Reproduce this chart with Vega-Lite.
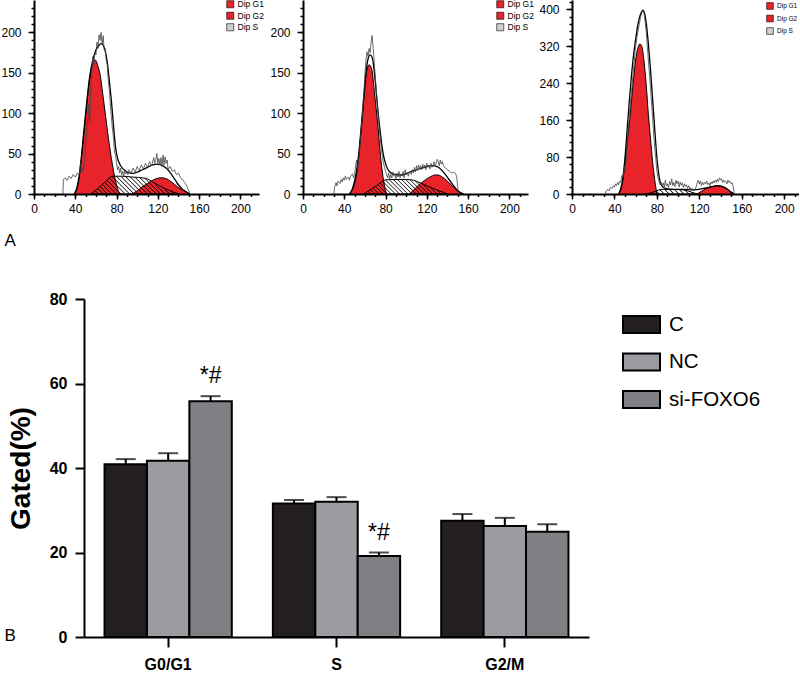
{
"$schema":"https://vega.github.io/schema/vega-lite/v6.json",
"padding":{"left":0,"top":0,"right":0,"bottom":0},
"config":{"font":"Liberation Sans","view":{"stroke":null},"axis":{"domainColor":"#000","tickColor":"#000","labelColor":"#000","titleColor":"#000","grid":false,"labelFont":"Liberation Sans","titleFont":"Liberation Sans"},"legend":{"labelFont":"Liberation Sans","labelColor":"#000"}},
"datasets":{
"p1":[
{"s":"Dip G1","x":40,"y":0},{"s":"Dip G1","x":42,"y":8},{"s":"Dip G1","x":44,"y":22},{"s":"Dip G1","x":46,"y":45},{"s":"Dip G1","x":48,"y":70},{"s":"Dip G1","x":50,"y":97},{"s":"Dip G1","x":52,"y":122},{"s":"Dip G1","x":54,"y":143},{"s":"Dip G1","x":56,"y":157},{"s":"Dip G1","x":58,"y":165},{"s":"Dip G1","x":59,"y":166},{"s":"Dip G1","x":60,"y":165},{"s":"Dip G1","x":62,"y":158},{"s":"Dip G1","x":64,"y":148},{"s":"Dip G1","x":66,"y":130},{"s":"Dip G1","x":68,"y":110},{"s":"Dip G1","x":70,"y":90},{"s":"Dip G1","x":72,"y":70},{"s":"Dip G1","x":74,"y":52},{"s":"Dip G1","x":76,"y":36},{"s":"Dip G1","x":78,"y":22},{"s":"Dip G1","x":80,"y":11},{"s":"Dip G1","x":82,"y":3},{"s":"Dip G1","x":84,"y":0},
{"s":"Dip G2","x":95,"y":0},{"s":"Dip G2","x":100,"y":4},{"s":"Dip G2","x":105,"y":9},{"s":"Dip G2","x":110,"y":13},{"s":"Dip G2","x":115,"y":17},{"s":"Dip G2","x":120,"y":19.5},{"s":"Dip G2","x":124,"y":20},{"s":"Dip G2","x":128,"y":19},{"s":"Dip G2","x":132,"y":16},{"s":"Dip G2","x":136,"y":12},{"s":"Dip G2","x":140,"y":8},{"s":"Dip G2","x":144,"y":5},{"s":"Dip G2","x":148,"y":2},{"s":"Dip G2","x":151,"y":0},
{"s":"Dip S","x":55,"y":0},{"s":"Dip S","x":62,"y":7},{"s":"Dip S","x":69,"y":15},{"s":"Dip S","x":76,"y":22},{"s":"Dip S","x":85,"y":22},{"s":"Dip S","x":95,"y":21},{"s":"Dip S","x":108,"y":19.5},{"s":"Dip S","x":115,"y":15},{"s":"Dip S","x":122,"y":10},{"s":"Dip S","x":130,"y":5},{"s":"Dip S","x":136,"y":2},{"s":"Dip S","x":141,"y":0},
{"s":"fit","x":39,"y":0},{"s":"fit","x":42,"y":10},{"s":"fit","x":45,"y":35},{"s":"fit","x":48,"y":74},{"s":"fit","x":51,"y":112},{"s":"fit","x":54,"y":146},{"s":"fit","x":57,"y":166},{"s":"fit","x":60,"y":178},{"s":"fit","x":63,"y":184},{"s":"fit","x":65,"y":186},{"s":"fit","x":67,"y":184},{"s":"fit","x":69,"y":177},{"s":"fit","x":71,"y":163},{"s":"fit","x":73,"y":140},{"s":"fit","x":75,"y":115},{"s":"fit","x":77,"y":85},{"s":"fit","x":79,"y":58},{"s":"fit","x":81,"y":44},{"s":"fit","x":84,"y":35},{"s":"fit","x":88,"y":29},{"s":"fit","x":92,"y":26},{"s":"fit","x":96,"y":25.5},{"s":"fit","x":100,"y":27},{"s":"fit","x":105,"y":30},{"s":"fit","x":110,"y":33},{"s":"fit","x":115,"y":36},{"s":"fit","x":119,"y":37},{"s":"fit","x":123,"y":36},{"s":"fit","x":127,"y":33},{"s":"fit","x":131,"y":28},{"s":"fit","x":135,"y":21},{"s":"fit","x":139,"y":13},{"s":"fit","x":143,"y":7},{"s":"fit","x":147,"y":3},{"s":"fit","x":151,"y":0},
{"s":"raw","x":28,"y":0},{"s":"raw","x":28.5,"y":18},{"s":"raw","x":30,"y":20},{"s":"raw","x":32,"y":17},{"s":"raw","x":34,"y":22},{"s":"raw","x":36,"y":19},{"s":"raw","x":38,"y":24},{"s":"raw","x":40,"y":21},{"s":"raw","x":42,"y":26},{"s":"raw","x":44,"y":24},{"s":"raw","x":45,"y":38},{"s":"raw","x":46,"y":36},{"s":"raw","x":47,"y":27},{"s":"raw","x":49,"y":40},{"s":"raw","x":50,"y":60},{"s":"raw","x":52,"y":90},{"s":"raw","x":53,"y":110},{"s":"raw","x":54,"y":87},{"s":"raw","x":55,"y":130},{"s":"raw","x":56,"y":150},{"s":"raw","x":57,"y":170},{"s":"raw","x":58,"y":160},{"s":"raw","x":59,"y":175},{"s":"raw","x":60,"y":172},{"s":"raw","x":61,"y":188},{"s":"raw","x":62,"y":180},{"s":"raw","x":63,"y":197},{"s":"raw","x":64,"y":190},{"s":"raw","x":65,"y":200},{"s":"raw","x":66,"y":185},{"s":"raw","x":67,"y":196},{"s":"raw","x":68,"y":178},{"s":"raw","x":69,"y":180},{"s":"raw","x":70,"y":165},{"s":"raw","x":71,"y":160},{"s":"raw","x":72,"y":140},{"s":"raw","x":73,"y":128},{"s":"raw","x":74,"y":110},{"s":"raw","x":75,"y":95},{"s":"raw","x":76,"y":80},{"s":"raw","x":77,"y":70},{"s":"raw","x":78,"y":52},{"s":"raw","x":79,"y":48},{"s":"raw","x":80,"y":38},{"s":"raw","x":81,"y":30},{"s":"raw","x":82,"y":34},{"s":"raw","x":83,"y":26},{"s":"raw","x":84,"y":32},{"s":"raw","x":85,"y":24},{"s":"raw","x":86,"y":28},{"s":"raw","x":87,"y":22},{"s":"raw","x":88,"y":30},{"s":"raw","x":89,"y":25},{"s":"raw","x":90,"y":28},{"s":"raw","x":91,"y":24},{"s":"raw","x":92,"y":30},{"s":"raw","x":94,"y":26},{"s":"raw","x":96,"y":32},{"s":"raw","x":98,"y":27},{"s":"raw","x":100,"y":34},{"s":"raw","x":102,"y":29},{"s":"raw","x":104,"y":36},{"s":"raw","x":106,"y":31},{"s":"raw","x":108,"y":38},{"s":"raw","x":110,"y":33},{"s":"raw","x":112,"y":40},{"s":"raw","x":114,"y":35},{"s":"raw","x":116,"y":45},{"s":"raw","x":117,"y":38},{"s":"raw","x":118,"y":42},{"s":"raw","x":119,"y":50},{"s":"raw","x":120,"y":38},{"s":"raw","x":121,"y":44},{"s":"raw","x":122,"y":36},{"s":"raw","x":123,"y":45},{"s":"raw","x":124,"y":34},{"s":"raw","x":125,"y":48},{"s":"raw","x":126,"y":36},{"s":"raw","x":127,"y":46},{"s":"raw","x":128,"y":38},{"s":"raw","x":129,"y":42},{"s":"raw","x":130,"y":30},{"s":"raw","x":132,"y":34},{"s":"raw","x":134,"y":28},{"s":"raw","x":136,"y":30},{"s":"raw","x":138,"y":24},{"s":"raw","x":140,"y":26},{"s":"raw","x":142,"y":20},{"s":"raw","x":144,"y":18},{"s":"raw","x":146,"y":14},{"s":"raw","x":148,"y":10},{"s":"raw","x":150,"y":4},{"s":"raw","x":151,"y":0}
],
"p2":[
{"s":"Dip G1","x":45,"y":0},{"s":"Dip G1","x":48,"y":6},{"s":"Dip G1","x":51,"y":18},{"s":"Dip G1","x":53,"y":34},{"s":"Dip G1","x":55,"y":60},{"s":"Dip G1","x":57,"y":88},{"s":"Dip G1","x":59,"y":117},{"s":"Dip G1","x":61,"y":145},{"s":"Dip G1","x":63,"y":158},{"s":"Dip G1","x":64,"y":160},{"s":"Dip G1","x":65,"y":159},{"s":"Dip G1","x":67,"y":152},{"s":"Dip G1","x":69,"y":128},{"s":"Dip G1","x":71,"y":104},{"s":"Dip G1","x":73,"y":78},{"s":"Dip G1","x":75,"y":48},{"s":"Dip G1","x":77,"y":26},{"s":"Dip G1","x":79,"y":10},{"s":"Dip G1","x":81,"y":0},
{"s":"Dip G2","x":103,"y":0},{"s":"Dip G2","x":108,"y":6},{"s":"Dip G2","x":113,"y":12},{"s":"Dip G2","x":118,"y":17},{"s":"Dip G2","x":123,"y":21},{"s":"Dip G2","x":128,"y":23.5},{"s":"Dip G2","x":131,"y":23.5},{"s":"Dip G2","x":135,"y":21},{"s":"Dip G2","x":139,"y":17},{"s":"Dip G2","x":143,"y":12},{"s":"Dip G2","x":147,"y":7},{"s":"Dip G2","x":151,"y":3},{"s":"Dip G2","x":156,"y":0},
{"s":"Dip S","x":59,"y":0},{"s":"Dip S","x":66,"y":6},{"s":"Dip S","x":73,"y":12},{"s":"Dip S","x":80,"y":17.5},{"s":"Dip S","x":90,"y":18},{"s":"Dip S","x":100,"y":18},{"s":"Dip S","x":107,"y":17},{"s":"Dip S","x":115,"y":13},{"s":"Dip S","x":122,"y":9},{"s":"Dip S","x":130,"y":5},{"s":"Dip S","x":136,"y":2},{"s":"Dip S","x":140,"y":0},
{"s":"fit","x":45,"y":0},{"s":"fit","x":48,"y":7},{"s":"fit","x":51,"y":22},{"s":"fit","x":54,"y":50},{"s":"fit","x":57,"y":92},{"s":"fit","x":59,"y":122},{"s":"fit","x":61,"y":150},{"s":"fit","x":63,"y":167},{"s":"fit","x":65,"y":172},{"s":"fit","x":67,"y":169},{"s":"fit","x":69,"y":152},{"s":"fit","x":71,"y":125},{"s":"fit","x":73,"y":98},{"s":"fit","x":75,"y":75},{"s":"fit","x":77,"y":55},{"s":"fit","x":79,"y":42},{"s":"fit","x":82,"y":31},{"s":"fit","x":86,"y":25.5},{"s":"fit","x":90,"y":24},{"s":"fit","x":95,"y":23.5},{"s":"fit","x":100,"y":25},{"s":"fit","x":105,"y":28},{"s":"fit","x":110,"y":30},{"s":"fit","x":115,"y":32},{"s":"fit","x":120,"y":34},{"s":"fit","x":125,"y":35},{"s":"fit","x":130,"y":34},{"s":"fit","x":134,"y":30},{"s":"fit","x":138,"y":24},{"s":"fit","x":142,"y":17},{"s":"fit","x":146,"y":10},{"s":"fit","x":150,"y":4},{"s":"fit","x":155,"y":0},
{"s":"raw","x":30,"y":0},{"s":"raw","x":30.5,"y":8},{"s":"raw","x":32,"y":14},{"s":"raw","x":33,"y":10},{"s":"raw","x":34,"y":16},{"s":"raw","x":36,"y":13},{"s":"raw","x":37,"y":18},{"s":"raw","x":38,"y":15},{"s":"raw","x":39,"y":20},{"s":"raw","x":40,"y":17},{"s":"raw","x":41,"y":22},{"s":"raw","x":42,"y":18},{"s":"raw","x":44,"y":21},{"s":"raw","x":45,"y":17},{"s":"raw","x":46,"y":22},{"s":"raw","x":48,"y":25},{"s":"raw","x":49,"y":20},{"s":"raw","x":50,"y":24},{"s":"raw","x":51,"y":35},{"s":"raw","x":52,"y":42},{"s":"raw","x":53,"y":30},{"s":"raw","x":54,"y":45},{"s":"raw","x":55,"y":58},{"s":"raw","x":56,"y":75},{"s":"raw","x":57,"y":90},{"s":"raw","x":58,"y":108},{"s":"raw","x":59,"y":125},{"s":"raw","x":60,"y":150},{"s":"raw","x":61,"y":165},{"s":"raw","x":62,"y":176},{"s":"raw","x":63,"y":170},{"s":"raw","x":64,"y":180},{"s":"raw","x":65,"y":175},{"s":"raw","x":66,"y":188},{"s":"raw","x":67,"y":196},{"s":"raw","x":68,"y":180},{"s":"raw","x":69,"y":165},{"s":"raw","x":70,"y":145},{"s":"raw","x":71,"y":130},{"s":"raw","x":72,"y":110},{"s":"raw","x":73,"y":95},{"s":"raw","x":74,"y":80},{"s":"raw","x":75,"y":68},{"s":"raw","x":76,"y":55},{"s":"raw","x":77,"y":46},{"s":"raw","x":78,"y":38},{"s":"raw","x":79,"y":33},{"s":"raw","x":80,"y":28},{"s":"raw","x":81,"y":24},{"s":"raw","x":82,"y":20},{"s":"raw","x":83,"y":26},{"s":"raw","x":84,"y":18},{"s":"raw","x":85,"y":24},{"s":"raw","x":86,"y":20},{"s":"raw","x":87,"y":27},{"s":"raw","x":88,"y":22},{"s":"raw","x":89,"y":25},{"s":"raw","x":90,"y":19},{"s":"raw","x":91,"y":26},{"s":"raw","x":92,"y":21},{"s":"raw","x":93,"y":28},{"s":"raw","x":94,"y":20},{"s":"raw","x":95,"y":25},{"s":"raw","x":96,"y":22},{"s":"raw","x":97,"y":28},{"s":"raw","x":98,"y":20},{"s":"raw","x":99,"y":30},{"s":"raw","x":100,"y":24},{"s":"raw","x":101,"y":27},{"s":"raw","x":102,"y":22},{"s":"raw","x":103,"y":26},{"s":"raw","x":104,"y":28},{"s":"raw","x":105,"y":24},{"s":"raw","x":106,"y":30},{"s":"raw","x":107,"y":26},{"s":"raw","x":108,"y":33},{"s":"raw","x":109,"y":27},{"s":"raw","x":110,"y":35},{"s":"raw","x":111,"y":29},{"s":"raw","x":112,"y":36},{"s":"raw","x":113,"y":31},{"s":"raw","x":114,"y":35},{"s":"raw","x":115,"y":30},{"s":"raw","x":116,"y":37},{"s":"raw","x":117,"y":32},{"s":"raw","x":118,"y":36},{"s":"raw","x":119,"y":30},{"s":"raw","x":120,"y":38},{"s":"raw","x":121,"y":33},{"s":"raw","x":122,"y":36},{"s":"raw","x":123,"y":31},{"s":"raw","x":124,"y":38},{"s":"raw","x":125,"y":33},{"s":"raw","x":126,"y":36},{"s":"raw","x":127,"y":40},{"s":"raw","x":128,"y":35},{"s":"raw","x":129,"y":38},{"s":"raw","x":130,"y":43},{"s":"raw","x":131,"y":40},{"s":"raw","x":132,"y":35},{"s":"raw","x":133,"y":42},{"s":"raw","x":134,"y":37},{"s":"raw","x":135,"y":40},{"s":"raw","x":136,"y":35},{"s":"raw","x":138,"y":32},{"s":"raw","x":140,"y":30},{"s":"raw","x":142,"y":28},{"s":"raw","x":144,"y":26},{"s":"raw","x":146,"y":27},{"s":"raw","x":148,"y":25},{"s":"raw","x":149,"y":20},{"s":"raw","x":150,"y":8},{"s":"raw","x":150.5,"y":0}
],
"p3":[
{"s":"Dip G1","x":44,"y":0},{"s":"Dip G1","x":46,"y":10},{"s":"Dip G1","x":48,"y":30},{"s":"Dip G1","x":50,"y":70},{"s":"Dip G1","x":52,"y":112},{"s":"Dip G1","x":54,"y":152},{"s":"Dip G1","x":56,"y":200},{"s":"Dip G1","x":58,"y":250},{"s":"Dip G1","x":60,"y":290},{"s":"Dip G1","x":62,"y":315},{"s":"Dip G1","x":64,"y":325},{"s":"Dip G1","x":66,"y":318},{"s":"Dip G1","x":68,"y":285},{"s":"Dip G1","x":70,"y":235},{"s":"Dip G1","x":72,"y":172},{"s":"Dip G1","x":74,"y":120},{"s":"Dip G1","x":76,"y":70},{"s":"Dip G1","x":78,"y":30},{"s":"Dip G1","x":80,"y":0},
{"s":"Dip G2","x":118,"y":0},{"s":"Dip G2","x":122,"y":6},{"s":"Dip G2","x":126,"y":11},{"s":"Dip G2","x":130,"y":15},{"s":"Dip G2","x":134,"y":17},{"s":"Dip G2","x":137,"y":17.5},{"s":"Dip G2","x":140,"y":17},{"s":"Dip G2","x":143,"y":15},{"s":"Dip G2","x":146,"y":11},{"s":"Dip G2","x":149,"y":5},{"s":"Dip G2","x":151,"y":0},
{"s":"Dip S","x":70,"y":0},{"s":"Dip S","x":75,"y":3},{"s":"Dip S","x":80,"y":7},{"s":"Dip S","x":84,"y":10},{"s":"Dip S","x":95,"y":10},{"s":"Dip S","x":105,"y":9},{"s":"Dip S","x":110,"y":6},{"s":"Dip S","x":114,"y":3},{"s":"Dip S","x":118,"y":0},
{"s":"fit","x":44,"y":0},{"s":"fit","x":46,"y":12},{"s":"fit","x":48,"y":35},{"s":"fit","x":50,"y":80},{"s":"fit","x":52,"y":140},{"s":"fit","x":54,"y":200},{"s":"fit","x":56,"y":255},{"s":"fit","x":58,"y":300},{"s":"fit","x":60,"y":335},{"s":"fit","x":62,"y":365},{"s":"fit","x":64,"y":385},{"s":"fit","x":66,"y":396},{"s":"fit","x":67,"y":398},{"s":"fit","x":68,"y":394},{"s":"fit","x":70,"y":370},{"s":"fit","x":72,"y":325},{"s":"fit","x":74,"y":270},{"s":"fit","x":76,"y":205},{"s":"fit","x":78,"y":140},{"s":"fit","x":80,"y":80},{"s":"fit","x":82,"y":40},{"s":"fit","x":84,"y":20},{"s":"fit","x":88,"y":12},{"s":"fit","x":95,"y":10},{"s":"fit","x":105,"y":10},{"s":"fit","x":115,"y":9},{"s":"fit","x":120,"y":10},{"s":"fit","x":126,"y":13},{"s":"fit","x":132,"y":16},{"s":"fit","x":137,"y":18},{"s":"fit","x":142,"y":16},{"s":"fit","x":146,"y":11},{"s":"fit","x":150,"y":4},{"s":"fit","x":153,"y":0},
{"s":"raw","x":31.5,"y":0},{"s":"raw","x":32,"y":6},{"s":"raw","x":34,"y":10},{"s":"raw","x":35,"y":7},{"s":"raw","x":36,"y":14},{"s":"raw","x":38,"y":12},{"s":"raw","x":39,"y":18},{"s":"raw","x":40,"y":15},{"s":"raw","x":41,"y":22},{"s":"raw","x":42,"y":18},{"s":"raw","x":43,"y":25},{"s":"raw","x":44,"y":20},{"s":"raw","x":45,"y":28},{"s":"raw","x":46,"y":25},{"s":"raw","x":47,"y":40},{"s":"raw","x":48,"y":35},{"s":"raw","x":49,"y":52},{"s":"raw","x":49.5,"y":60},{"s":"raw","x":50,"y":48},{"s":"raw","x":51,"y":70},{"s":"raw","x":52,"y":110},{"s":"raw","x":53,"y":140},{"s":"raw","x":54,"y":170},{"s":"raw","x":56,"y":220},{"s":"raw","x":58,"y":270},{"s":"raw","x":60,"y":320},{"s":"raw","x":62,"y":350},{"s":"raw","x":64,"y":375},{"s":"raw","x":65,"y":385},{"s":"raw","x":66,"y":395},{"s":"raw","x":67,"y":398},{"s":"raw","x":68,"y":390},{"s":"raw","x":69,"y":372},{"s":"raw","x":70,"y":350},{"s":"raw","x":71,"y":320},{"s":"raw","x":72,"y":290},{"s":"raw","x":73,"y":260},{"s":"raw","x":74,"y":230},{"s":"raw","x":75,"y":195},{"s":"raw","x":76,"y":165},{"s":"raw","x":77,"y":130},{"s":"raw","x":78,"y":100},{"s":"raw","x":79,"y":75},{"s":"raw","x":80,"y":50},{"s":"raw","x":81,"y":35},{"s":"raw","x":82,"y":28},{"s":"raw","x":83,"y":20},{"s":"raw","x":84,"y":26},{"s":"raw","x":85,"y":18},{"s":"raw","x":86,"y":24},{"s":"raw","x":87,"y":15},{"s":"raw","x":88,"y":30},{"s":"raw","x":89,"y":17},{"s":"raw","x":90,"y":22},{"s":"raw","x":91,"y":14},{"s":"raw","x":92,"y":27},{"s":"raw","x":93,"y":20},{"s":"raw","x":94,"y":33},{"s":"raw","x":95,"y":18},{"s":"raw","x":96,"y":25},{"s":"raw","x":97,"y":16},{"s":"raw","x":98,"y":30},{"s":"raw","x":99,"y":22},{"s":"raw","x":100,"y":28},{"s":"raw","x":101,"y":15},{"s":"raw","x":102,"y":26},{"s":"raw","x":103,"y":19},{"s":"raw","x":104,"y":24},{"s":"raw","x":105,"y":14},{"s":"raw","x":106,"y":22},{"s":"raw","x":107,"y":16},{"s":"raw","x":108,"y":20},{"s":"raw","x":109,"y":12},{"s":"raw","x":110,"y":18},{"s":"raw","x":111,"y":10},{"s":"raw","x":112,"y":14},{"s":"raw","x":113,"y":8},{"s":"raw","x":114,"y":12},{"s":"raw","x":115,"y":7},{"s":"raw","x":116,"y":10},{"s":"raw","x":117,"y":15},{"s":"raw","x":118,"y":24},{"s":"raw","x":119,"y":30},{"s":"raw","x":120,"y":22},{"s":"raw","x":121,"y":28},{"s":"raw","x":122,"y":18},{"s":"raw","x":123,"y":26},{"s":"raw","x":124,"y":20},{"s":"raw","x":125,"y":25},{"s":"raw","x":126,"y":22},{"s":"raw","x":127,"y":28},{"s":"raw","x":128,"y":20},{"s":"raw","x":129,"y":24},{"s":"raw","x":130,"y":18},{"s":"raw","x":131,"y":26},{"s":"raw","x":132,"y":22},{"s":"raw","x":133,"y":28},{"s":"raw","x":134,"y":24},{"s":"raw","x":135,"y":30},{"s":"raw","x":136,"y":25},{"s":"raw","x":137,"y":32},{"s":"raw","x":138,"y":27},{"s":"raw","x":139,"y":35},{"s":"raw","x":140,"y":30},{"s":"raw","x":141,"y":33},{"s":"raw","x":142,"y":25},{"s":"raw","x":143,"y":30},{"s":"raw","x":144,"y":26},{"s":"raw","x":145,"y":28},{"s":"raw","x":146,"y":22},{"s":"raw","x":147,"y":30},{"s":"raw","x":148,"y":25},{"s":"raw","x":149,"y":28},{"s":"raw","x":150,"y":22},{"s":"raw","x":151,"y":24},{"s":"raw","x":152,"y":15},{"s":"raw","x":153,"y":0}
],
"bars":[
{"phase":"G0/G1","group":"C","value":40.9,"upper":42.1,"label":""},
{"phase":"G0/G1","group":"NC","value":41.7,"upper":43.5,"label":""},
{"phase":"G0/G1","group":"si-FOXO6","value":55.8,"upper":57.0,"label":"*#"},
{"phase":"S","group":"C","value":31.6,"upper":32.4,"label":""},
{"phase":"S","group":"NC","value":32.0,"upper":33.1,"label":""},
{"phase":"S","group":"si-FOXO6","value":19.2,"upper":20.0,"label":"*#"},
{"phase":"G2/M","group":"C","value":27.5,"upper":29.1,"label":""},
{"phase":"G2/M","group":"NC","value":26.3,"upper":28.2,"label":""},
{"phase":"G2/M","group":"si-FOXO6","value":24.9,"upper":26.7,"label":""}
]
},
"columns":3,
"align":"none",
"bounds":"flush",
"spacing":{"row":105,"column":44},
"resolve":{"scale":{"x":"independent","y":"independent","color":"independent"},"axis":{"x":"independent","y":"independent"},"legend":{"color":"independent"}},
"concat":[
{
"width":225,"height":194,
"data":{"name":"p1"},
"resolve":{"axis":{"x":"independent","y":"independent"}},
"layer":[
{"transform":[{"filter":{"field":"s","oneOf":["Dip G1","Dip G2"]}}],
"mark":{"type":"area","interpolate":"monotone","stroke":"#000","strokeWidth":1},
"encoding":{
"x":{"field":"x","type":"quantitative","scale":{"domain":[0,218],"nice":false,"zero":false},"axis":{"orient":"bottom","values":[0,40,80,120,160,200],"tickSize":5,"tickWidth":1.5,"domainWidth":2,"labelFontSize":12,"labelPadding":4,"labelFlush":false,"title":"A","titleX":-30,"titleY":38,"titleAlign":"left","titleBaseline":"top","titleFontSize":17,"titleFontWeight":"normal","titleAngle":0}},
"y":{"field":"y","type":"quantitative","stack":null,"scale":{"domain":[0,240],"nice":false},"axis":{"orient":"left","values":[0,50,100,150,200],"tickSize":6,"tickWidth":1.5,"domainWidth":2,"labelFontSize":12,"labelPadding":7,"labelFlush":false,"title":null}},
"color":{"field":"s","type":"nominal","scale":{"domain":["Dip G1","Dip G2","Dip S"],"range":["#e8232a","#e8232a","#cfcfcf"]},"legend":{"orient":"none","legendX":192,"legendY":0,"title":null,"symbolType":"square","symbolSize":50,"symbolStrokeColor":"#000","symbolStrokeWidth":0.6,"labelFontSize":8.5,"labelOffset":3,"rowPadding":1.5}}
}},
{"transform":[{"filter":"datum.s === 'Dip S'"}],
"mark":{"type":"area","interpolate":"monotone","stroke":"#000","strokeWidth":1,"fill":{"gradient":"linear","x1":-0.1,"y1":0.62,"x2":1.1,"y2":0.38,"stops":[{"offset":0,"color":"rgba(0,0,0,0)"},{"offset":0.01,"color":"rgba(0,0,0,0.9)"},{"offset":0.02,"color":"rgba(0,0,0,0)"},{"offset":0.04,"color":"rgba(0,0,0,0)"},{"offset":0.05,"color":"rgba(0,0,0,0.9)"},{"offset":0.06,"color":"rgba(0,0,0,0)"},{"offset":0.08,"color":"rgba(0,0,0,0)"},{"offset":0.09,"color":"rgba(0,0,0,0.9)"},{"offset":0.1,"color":"rgba(0,0,0,0)"},{"offset":0.12,"color":"rgba(0,0,0,0)"},{"offset":0.13,"color":"rgba(0,0,0,0.9)"},{"offset":0.14,"color":"rgba(0,0,0,0)"},{"offset":0.16,"color":"rgba(0,0,0,0)"},{"offset":0.17,"color":"rgba(0,0,0,0.9)"},{"offset":0.18,"color":"rgba(0,0,0,0)"},{"offset":0.2,"color":"rgba(0,0,0,0)"},{"offset":0.21,"color":"rgba(0,0,0,0.9)"},{"offset":0.22,"color":"rgba(0,0,0,0)"},{"offset":0.24,"color":"rgba(0,0,0,0)"},{"offset":0.25,"color":"rgba(0,0,0,0.9)"},{"offset":0.26,"color":"rgba(0,0,0,0)"},{"offset":0.28,"color":"rgba(0,0,0,0)"},{"offset":0.29,"color":"rgba(0,0,0,0.9)"},{"offset":0.3,"color":"rgba(0,0,0,0)"},{"offset":0.32,"color":"rgba(0,0,0,0)"},{"offset":0.33,"color":"rgba(0,0,0,0.9)"},{"offset":0.34,"color":"rgba(0,0,0,0)"},{"offset":0.36,"color":"rgba(0,0,0,0)"},{"offset":0.37,"color":"rgba(0,0,0,0.9)"},{"offset":0.38,"color":"rgba(0,0,0,0)"},{"offset":0.4,"color":"rgba(0,0,0,0)"},{"offset":0.41,"color":"rgba(0,0,0,0.9)"},{"offset":0.42,"color":"rgba(0,0,0,0)"},{"offset":0.44,"color":"rgba(0,0,0,0)"},{"offset":0.45,"color":"rgba(0,0,0,0.9)"},{"offset":0.46,"color":"rgba(0,0,0,0)"},{"offset":0.48,"color":"rgba(0,0,0,0)"},{"offset":0.49,"color":"rgba(0,0,0,0.9)"},{"offset":0.5,"color":"rgba(0,0,0,0)"},{"offset":0.52,"color":"rgba(0,0,0,0)"},{"offset":0.53,"color":"rgba(0,0,0,0.9)"},{"offset":0.54,"color":"rgba(0,0,0,0)"},{"offset":0.56,"color":"rgba(0,0,0,0)"},{"offset":0.57,"color":"rgba(0,0,0,0.9)"},{"offset":0.58,"color":"rgba(0,0,0,0)"},{"offset":0.6,"color":"rgba(0,0,0,0)"},{"offset":0.61,"color":"rgba(0,0,0,0.9)"},{"offset":0.62,"color":"rgba(0,0,0,0)"},{"offset":0.64,"color":"rgba(0,0,0,0)"},{"offset":0.65,"color":"rgba(0,0,0,0.9)"},{"offset":0.66,"color":"rgba(0,0,0,0)"},{"offset":0.68,"color":"rgba(0,0,0,0)"},{"offset":0.69,"color":"rgba(0,0,0,0.9)"},{"offset":0.7,"color":"rgba(0,0,0,0)"},{"offset":0.72,"color":"rgba(0,0,0,0)"},{"offset":0.73,"color":"rgba(0,0,0,0.9)"},{"offset":0.74,"color":"rgba(0,0,0,0)"},{"offset":0.76,"color":"rgba(0,0,0,0)"},{"offset":0.77,"color":"rgba(0,0,0,0.9)"},{"offset":0.78,"color":"rgba(0,0,0,0)"},{"offset":0.8,"color":"rgba(0,0,0,0)"},{"offset":0.81,"color":"rgba(0,0,0,0.9)"},{"offset":0.82,"color":"rgba(0,0,0,0)"},{"offset":0.84,"color":"rgba(0,0,0,0)"},{"offset":0.85,"color":"rgba(0,0,0,0.9)"},{"offset":0.86,"color":"rgba(0,0,0,0)"},{"offset":0.88,"color":"rgba(0,0,0,0)"},{"offset":0.89,"color":"rgba(0,0,0,0.9)"},{"offset":0.9,"color":"rgba(0,0,0,0)"},{"offset":0.92,"color":"rgba(0,0,0,0)"},{"offset":0.93,"color":"rgba(0,0,0,0.9)"},{"offset":0.94,"color":"rgba(0,0,0,0)"},{"offset":0.96,"color":"rgba(0,0,0,0)"},{"offset":0.97,"color":"rgba(0,0,0,0.9)"},{"offset":0.98,"color":"rgba(0,0,0,0)"},{"offset":1,"color":"rgba(0,0,0,0)"}]}},
"encoding":{"x":{"field":"x","type":"quantitative","axis":null},"y":{"field":"y","type":"quantitative","stack":null,"axis":null}}},
{"transform":[{"filter":"datum.s === 'fit'"}],"mark":{"type":"line","interpolate":"monotone","color":"#000","strokeWidth":1.3},"encoding":{"x":{"field":"x","type":"quantitative","axis":{"orient":"bottom","values":[0,10,20,30,40,50,60,70,80,90,100,110,120,130,140,150,160,170,180,190,200,210],"tickSize":2.5,"tickWidth":1.5,"labels":false,"domain":false,"title":null}},"y":{"field":"y","type":"quantitative","axis":{"orient":"left","values":[0,10,20,30,40,50,60,70,80,90,100,110,120,130,140,150,160,170,180,190,200,210,220,230],"tickSize":3,"tickWidth":1.5,"labels":false,"domain":false,"title":null}}}},
{"transform":[{"filter":"datum.s === 'raw'"}],"mark":{"type":"line","color":"#444","strokeWidth":0.8},"encoding":{"x":{"field":"x","type":"quantitative","axis":null},"y":{"field":"y","type":"quantitative","axis":null}}}
]
},
{
"width":225,"height":194,
"data":{"name":"p2"},
"resolve":{"axis":{"x":"independent","y":"independent"}},
"layer":[
{"transform":[{"filter":{"field":"s","oneOf":["Dip G1","Dip G2"]}}],
"mark":{"type":"area","interpolate":"monotone","stroke":"#000","strokeWidth":1},
"encoding":{
"x":{"field":"x","type":"quantitative","scale":{"domain":[0,218],"nice":false,"zero":false},"axis":{"orient":"bottom","values":[0,40,80,120,160,200],"tickSize":5,"tickWidth":1.5,"domainWidth":2,"labelFontSize":12,"labelPadding":4,"labelFlush":false,"title":null}},
"y":{"field":"y","type":"quantitative","stack":null,"scale":{"domain":[0,240],"nice":false},"axis":{"orient":"left","values":[0,50,100,150,200],"tickSize":6,"tickWidth":1.5,"domainWidth":2,"labelFontSize":12,"labelPadding":7,"labelFlush":false,"title":null}},
"color":{"field":"s","type":"nominal","scale":{"domain":["Dip G1","Dip G2","Dip S"],"range":["#e8232a","#e8232a","#cfcfcf"]},"legend":{"orient":"none","legendX":193,"legendY":0,"title":null,"symbolType":"square","symbolSize":50,"symbolStrokeColor":"#000","symbolStrokeWidth":0.6,"labelFontSize":8.5,"labelOffset":3,"rowPadding":1.5}}
}},
{"transform":[{"filter":"datum.s === 'Dip S'"}],
"mark":{"type":"area","interpolate":"monotone","stroke":"#000","strokeWidth":1,"fill":{"gradient":"linear","x1":-0.1,"y1":0.605,"x2":1.1,"y2":0.395,"stops":[{"offset":0,"color":"rgba(0,0,0,0)"},{"offset":0.01,"color":"rgba(0,0,0,0.9)"},{"offset":0.02,"color":"rgba(0,0,0,0)"},{"offset":0.04,"color":"rgba(0,0,0,0)"},{"offset":0.05,"color":"rgba(0,0,0,0.9)"},{"offset":0.06,"color":"rgba(0,0,0,0)"},{"offset":0.08,"color":"rgba(0,0,0,0)"},{"offset":0.09,"color":"rgba(0,0,0,0.9)"},{"offset":0.1,"color":"rgba(0,0,0,0)"},{"offset":0.12,"color":"rgba(0,0,0,0)"},{"offset":0.13,"color":"rgba(0,0,0,0.9)"},{"offset":0.14,"color":"rgba(0,0,0,0)"},{"offset":0.16,"color":"rgba(0,0,0,0)"},{"offset":0.17,"color":"rgba(0,0,0,0.9)"},{"offset":0.18,"color":"rgba(0,0,0,0)"},{"offset":0.2,"color":"rgba(0,0,0,0)"},{"offset":0.21,"color":"rgba(0,0,0,0.9)"},{"offset":0.22,"color":"rgba(0,0,0,0)"},{"offset":0.24,"color":"rgba(0,0,0,0)"},{"offset":0.25,"color":"rgba(0,0,0,0.9)"},{"offset":0.26,"color":"rgba(0,0,0,0)"},{"offset":0.28,"color":"rgba(0,0,0,0)"},{"offset":0.29,"color":"rgba(0,0,0,0.9)"},{"offset":0.3,"color":"rgba(0,0,0,0)"},{"offset":0.32,"color":"rgba(0,0,0,0)"},{"offset":0.33,"color":"rgba(0,0,0,0.9)"},{"offset":0.34,"color":"rgba(0,0,0,0)"},{"offset":0.36,"color":"rgba(0,0,0,0)"},{"offset":0.37,"color":"rgba(0,0,0,0.9)"},{"offset":0.38,"color":"rgba(0,0,0,0)"},{"offset":0.4,"color":"rgba(0,0,0,0)"},{"offset":0.41,"color":"rgba(0,0,0,0.9)"},{"offset":0.42,"color":"rgba(0,0,0,0)"},{"offset":0.44,"color":"rgba(0,0,0,0)"},{"offset":0.45,"color":"rgba(0,0,0,0.9)"},{"offset":0.46,"color":"rgba(0,0,0,0)"},{"offset":0.48,"color":"rgba(0,0,0,0)"},{"offset":0.49,"color":"rgba(0,0,0,0.9)"},{"offset":0.5,"color":"rgba(0,0,0,0)"},{"offset":0.52,"color":"rgba(0,0,0,0)"},{"offset":0.53,"color":"rgba(0,0,0,0.9)"},{"offset":0.54,"color":"rgba(0,0,0,0)"},{"offset":0.56,"color":"rgba(0,0,0,0)"},{"offset":0.57,"color":"rgba(0,0,0,0.9)"},{"offset":0.58,"color":"rgba(0,0,0,0)"},{"offset":0.6,"color":"rgba(0,0,0,0)"},{"offset":0.61,"color":"rgba(0,0,0,0.9)"},{"offset":0.62,"color":"rgba(0,0,0,0)"},{"offset":0.64,"color":"rgba(0,0,0,0)"},{"offset":0.65,"color":"rgba(0,0,0,0.9)"},{"offset":0.66,"color":"rgba(0,0,0,0)"},{"offset":0.68,"color":"rgba(0,0,0,0)"},{"offset":0.69,"color":"rgba(0,0,0,0.9)"},{"offset":0.7,"color":"rgba(0,0,0,0)"},{"offset":0.72,"color":"rgba(0,0,0,0)"},{"offset":0.73,"color":"rgba(0,0,0,0.9)"},{"offset":0.74,"color":"rgba(0,0,0,0)"},{"offset":0.76,"color":"rgba(0,0,0,0)"},{"offset":0.77,"color":"rgba(0,0,0,0.9)"},{"offset":0.78,"color":"rgba(0,0,0,0)"},{"offset":0.8,"color":"rgba(0,0,0,0)"},{"offset":0.81,"color":"rgba(0,0,0,0.9)"},{"offset":0.82,"color":"rgba(0,0,0,0)"},{"offset":0.84,"color":"rgba(0,0,0,0)"},{"offset":0.85,"color":"rgba(0,0,0,0.9)"},{"offset":0.86,"color":"rgba(0,0,0,0)"},{"offset":0.88,"color":"rgba(0,0,0,0)"},{"offset":0.89,"color":"rgba(0,0,0,0.9)"},{"offset":0.9,"color":"rgba(0,0,0,0)"},{"offset":0.92,"color":"rgba(0,0,0,0)"},{"offset":0.93,"color":"rgba(0,0,0,0.9)"},{"offset":0.94,"color":"rgba(0,0,0,0)"},{"offset":0.96,"color":"rgba(0,0,0,0)"},{"offset":0.97,"color":"rgba(0,0,0,0.9)"},{"offset":0.98,"color":"rgba(0,0,0,0)"},{"offset":1,"color":"rgba(0,0,0,0)"}]}},
"encoding":{"x":{"field":"x","type":"quantitative","axis":null},"y":{"field":"y","type":"quantitative","stack":null,"axis":null}}},
{"transform":[{"filter":"datum.s === 'fit'"}],"mark":{"type":"line","interpolate":"monotone","color":"#000","strokeWidth":1.3},"encoding":{"x":{"field":"x","type":"quantitative","axis":{"orient":"bottom","values":[0,10,20,30,40,50,60,70,80,90,100,110,120,130,140,150,160,170,180,190,200,210],"tickSize":2.5,"tickWidth":1.5,"labels":false,"domain":false,"title":null}},"y":{"field":"y","type":"quantitative","axis":{"orient":"left","values":[0,10,20,30,40,50,60,70,80,90,100,110,120,130,140,150,160,170,180,190,200,210,220,230],"tickSize":3,"tickWidth":1.5,"labels":false,"domain":false,"title":null}}}},
{"transform":[{"filter":"datum.s === 'raw'"}],"mark":{"type":"line","color":"#444","strokeWidth":0.8},"encoding":{"x":{"field":"x","type":"quantitative","axis":null},"y":{"field":"y","type":"quantitative","axis":null}}}
]
},
{
"width":227,"height":194,
"data":{"name":"p3"},
"resolve":{"axis":{"x":"independent","y":"independent"}},
"layer":[
{"transform":[{"filter":{"field":"s","oneOf":["Dip G1","Dip G2"]}}],
"mark":{"type":"area","interpolate":"monotone","stroke":"#000","strokeWidth":1},
"encoding":{
"x":{"field":"x","type":"quantitative","scale":{"domain":[0,214],"nice":false,"zero":false},"axis":{"orient":"bottom","values":[0,40,80,120,160,200],"tickSize":5,"tickWidth":1.5,"domainWidth":2,"labelFontSize":12,"labelPadding":4,"labelFlush":false,"title":null}},
"y":{"field":"y","type":"quantitative","stack":null,"scale":{"domain":[0,420],"nice":false},"axis":{"orient":"left","values":[0,80,160,240,320,400],"tickSize":6,"tickWidth":1.5,"domainWidth":2,"labelFontSize":12,"labelPadding":7,"labelFlush":false,"title":null}},
"color":{"field":"s","type":"nominal","scale":{"domain":["Dip G1","Dip G2","Dip S"],"range":["#e8232a","#e8232a","#cfcfcf"]},"legend":{"orient":"none","legendX":194,"legendY":2,"title":null,"symbolType":"square","symbolSize":45,"symbolStrokeColor":"#000","symbolStrokeWidth":0.6,"labelFontSize":6.5,"labelOffset":3,"rowPadding":2.5}}
}},
{"transform":[{"filter":"datum.s === 'Dip S'"}],
"mark":{"type":"area","interpolate":"monotone","stroke":"#000","strokeWidth":1,"fill":{"gradient":"linear","x1":-0.1,"y1":0.554,"x2":1.1,"y2":0.446,"stops":[{"offset":0,"color":"rgba(0,0,0,0)"},{"offset":0.02,"color":"rgba(0,0,0,0.9)"},{"offset":0.04,"color":"rgba(0,0,0,0)"},{"offset":0.08,"color":"rgba(0,0,0,0)"},{"offset":0.1,"color":"rgba(0,0,0,0.9)"},{"offset":0.12,"color":"rgba(0,0,0,0)"},{"offset":0.16,"color":"rgba(0,0,0,0)"},{"offset":0.18,"color":"rgba(0,0,0,0.9)"},{"offset":0.2,"color":"rgba(0,0,0,0)"},{"offset":0.24,"color":"rgba(0,0,0,0)"},{"offset":0.26,"color":"rgba(0,0,0,0.9)"},{"offset":0.28,"color":"rgba(0,0,0,0)"},{"offset":0.32,"color":"rgba(0,0,0,0)"},{"offset":0.34,"color":"rgba(0,0,0,0.9)"},{"offset":0.36,"color":"rgba(0,0,0,0)"},{"offset":0.4,"color":"rgba(0,0,0,0)"},{"offset":0.42,"color":"rgba(0,0,0,0.9)"},{"offset":0.44,"color":"rgba(0,0,0,0)"},{"offset":0.48,"color":"rgba(0,0,0,0)"},{"offset":0.5,"color":"rgba(0,0,0,0.9)"},{"offset":0.52,"color":"rgba(0,0,0,0)"},{"offset":0.56,"color":"rgba(0,0,0,0)"},{"offset":0.58,"color":"rgba(0,0,0,0.9)"},{"offset":0.6,"color":"rgba(0,0,0,0)"},{"offset":0.64,"color":"rgba(0,0,0,0)"},{"offset":0.66,"color":"rgba(0,0,0,0.9)"},{"offset":0.68,"color":"rgba(0,0,0,0)"},{"offset":0.72,"color":"rgba(0,0,0,0)"},{"offset":0.74,"color":"rgba(0,0,0,0.9)"},{"offset":0.76,"color":"rgba(0,0,0,0)"},{"offset":0.8,"color":"rgba(0,0,0,0)"},{"offset":0.82,"color":"rgba(0,0,0,0.9)"},{"offset":0.84,"color":"rgba(0,0,0,0)"},{"offset":0.88,"color":"rgba(0,0,0,0)"},{"offset":0.9,"color":"rgba(0,0,0,0.9)"},{"offset":0.92,"color":"rgba(0,0,0,0)"},{"offset":0.96,"color":"rgba(0,0,0,0)"},{"offset":0.98,"color":"rgba(0,0,0,0.9)"},{"offset":1,"color":"rgba(0,0,0,0)"}]}},
"encoding":{"x":{"field":"x","type":"quantitative","axis":null},"y":{"field":"y","type":"quantitative","stack":null,"axis":null}}},
{"transform":[{"filter":"datum.s === 'fit'"}],"mark":{"type":"line","interpolate":"monotone","color":"#000","strokeWidth":1.3},"encoding":{"x":{"field":"x","type":"quantitative","axis":{"orient":"bottom","values":[0,10,20,30,40,50,60,70,80,90,100,110,120,130,140,150,160,170,180,190,200,210],"tickSize":2.5,"tickWidth":1.5,"labels":false,"domain":false,"title":null}},"y":{"field":"y","type":"quantitative","axis":{"orient":"left","values":[0,16,32,48,64,80,96,112,128,144,160,176,192,208,224,240,256,272,288,304,320,336,352,368,384,400,416],"tickSize":3,"tickWidth":1.5,"labels":false,"domain":false,"title":null}}}},
{"transform":[{"filter":"datum.s === 'raw'"}],"mark":{"type":"line","color":"#444","strokeWidth":0.8},"encoding":{"x":{"field":"x","type":"quantitative","axis":null},"y":{"field":"y","type":"quantitative","axis":null}}}
]
},
{
"width":225,"height":338,
"data":{"name":"bars"},
"encoding":{
"x":{"field":"phase","type":"nominal","sort":["G0/G1","S","G2/M"],"scale":{"range":[50,555],"paddingInner":0.244,"paddingOuter":0.122},"axis":{"labelAngle":0,"domainWidth":2,"tickWidth":2,"tickSize":10,"labelFontSize":16,"labelFontWeight":"bold","labelPadding":9,"title":"B","titleX":-30,"titleY":-2,"titleAlign":"left","titleBaseline":"middle","titleFontSize":17,"titleFontWeight":"normal","titleAngle":0}},
"xOffset":{"field":"group","type":"nominal","sort":["C","NC","si-FOXO6"],"scale":{"paddingInner":0,"paddingOuter":0}}
},
"layer":[
{"mark":{"type":"bar","stroke":"#000","strokeWidth":2},
"encoding":{
"y":{"field":"value","type":"quantitative","scale":{"domain":[0,80],"nice":false},"axis":{"offset":-50,"values":[0,20,40,60,80],"domainWidth":2,"tickWidth":2,"tickSize":9,"labelFontSize":16,"labelFontWeight":"bold","labelPadding":8,"title":"Gated(%)","titleFontSize":28,"titleFontWeight":"bold","titlePadding":14}},
"color":{"field":"group","type":"nominal","scale":{"domain":["C","NC","si-FOXO6"],"range":["#231f20","#9a9ca2","#7f8084"]},"legend":{"orient":"none","legendX":588,"legendY":6,"title":null,"symbolType":"M-1,-0.46H1V0.46H-1Z","symbolSize":1369,"symbolStrokeColor":"#000","symbolStrokeWidth":2,"labelFontSize":20.5,"labelOffset":8,"rowPadding":4.5}}
}},
{"mark":{"type":"rule","color":"#000","strokeWidth":2},"encoding":{"y":{"field":"value","type":"quantitative","title":"Gated(%)"},"y2":{"field":"upper"}}},
{"mark":{"type":"tick","color":"#000","thickness":2,"size":20},"encoding":{"y":{"field":"upper","type":"quantitative","title":"Gated(%)"}}},
{"mark":{"type":"text","baseline":"alphabetic","dy":-13,"fontSize":23,"color":"#000"},"encoding":{"y":{"field":"upper","type":"quantitative","title":"Gated(%)"},"text":{"field":"label"}}}
]
}
]
}
